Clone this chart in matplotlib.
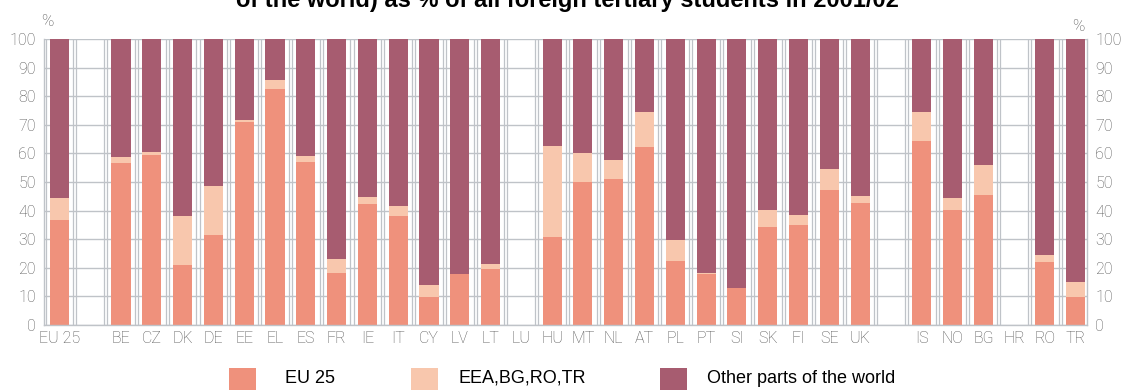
#
# Imports
#

import matplotlib

matplotlib.use("Agg")
import matplotlib.pyplot as plt
from matplotlib.patches import Rectangle
import numpy as np

#
# Data
#

# Groups of countries, a blank slot is left between groups
group_eu = ["EU 25"]
group_members = ["BE", "CZ", "DK", "DE", "EE", "EL", "ES", "FR", "IE", "IT", "CY", "LV", "LT",
                 "LU", "HU", "MT", "NL", "AT", "PL", "PT", "SI", "SK", "FI", "SE", "UK"]
group_others = ["IS", "NO", "BG", "HR", "RO", "TR"]

# Shares (%) of foreign tertiary students by origin
eu25_share = [36.8,
              56.6, 59.6, 20.9, 31.4, 71.1, 82.5, 57.1, 18.2, 42.4, 38.0, 9.9, 17.7,
              19.7, 0.0, 30.8, 49.9, 51.1, 62.1, 22.4, 18.0, 12.8, 34.3, 34.8, 47.3, 42.6,
              64.5, 40.3, 45.3, 0.0, 22.1, 9.9]
eea_share = [7.6,
             2.0, 1.0, 17.1, 17.1, 0.5, 3.2, 2.1, 4.8, 2.3, 3.5, 4.0, 0.2,
             1.6, 0.0, 31.7, 10.1, 6.6, 12.2, 7.2, 0.3, 0.2, 6.0, 3.5, 7.3, 2.5,
             10.1, 4.1, 10.7, 0.0, 2.3, 5.2]
other_share = [55.6,
               41.4, 39.4, 62.0, 51.5, 28.4, 14.3, 40.8, 77.0, 55.3, 58.5, 86.1, 82.1,
               78.7, 0.0, 37.5, 40.0, 42.3, 25.7, 70.4, 81.7, 87.0, 59.7, 61.7, 45.4, 54.9,
               25.4, 55.6, 44.0, 0.0, 75.6, 84.9]

legend_labels = ["EU 25", "EEA,BG,RO,TR", "Other parts of the world"]
title_text = "of the world) as % of all foreign tertiary students in 2001/02"
y_ticks = list(range(0, 101, 10))

#
# Main
#


def main() -> None:
    color_eu = "#ef917c"
    color_eea = "#f8c7ad"
    color_other = "#a75c70"
    grid_color = "#bfc3c8"
    text_color = "#555555"

    # Slot positions with a gap between the groups
    labels = []
    positions = []
    slot = 0
    for group in [group_eu, group_members, group_others]:
        for name in group:
            labels.append(name)
            positions.append(slot)
            slot += 1
        slot += 1
    positions = np.array(positions)

    fig = plt.figure(figsize=(11.21, 3.90), dpi=100)
    axes = fig.add_axes([0.0393, 0.1667, 0.9304, 0.7333])

    # Grid: horizontal lines every 10 and a double frame of vertical lines around each slot
    for y in y_ticks:
        axes.axhline(y, color=grid_color, linewidth=1.0, zorder=0)
    for p in range(slot - 1):
        axes.axvline(p - 0.45, color=grid_color, linewidth=0.9, zorder=0)
        axes.axvline(p + 0.45, color=grid_color, linewidth=0.9, zorder=0)

    width = 0.62
    eu = np.array(eu25_share)
    eea = np.array(eea_share)
    other = np.array(other_share)
    axes.bar(positions, eu, width, color=color_eu, zorder=2)
    axes.bar(positions, eea, width, bottom=eu, color=color_eea, zorder=2)
    axes.bar(positions, other, width, bottom=eu + eea, color=color_other, zorder=2)

    axes.set_xlim(-0.5, 33.37)
    axes.set_ylim(0, 100)
    for side in ["left", "right", "top", "bottom"]:
        axes.spines[side].set_color(grid_color)
        axes.spines[side].set_linewidth(1.0)
    axes.spines["top"].set_visible(False)

    axes.set_xticks(positions)
    axes.set_xticklabels(labels)
    axes.set_yticks(y_ticks)
    axes.tick_params(axis="both", length=0, labelsize=11.5, labelcolor=text_color,
                     labelright=True, right=False)
    axes.tick_params(axis="x", pad=4)
    axes.tick_params(axis="y", pad=6)
    for label in axes.get_xticklabels() + axes.get_yticklabels():
        label.set_fontfamily("Roboto")
        label.set_fontweight("light")

    fig.text(0.042, 0.945, "%", fontsize=12, color=text_color, family="Roboto", fontweight="light",
             ha="center", va="center")
    fig.text(0.962, 0.932, "%", fontsize=12, color=text_color, family="Roboto", fontweight="light",
             ha="center", va="center")

    # Title, mostly cut off at the top edge of the picture as in the source
    fig.text(0.506, 0.982, title_text, fontsize=17, fontweight="bold", family="Liberation Sans",
             ha="center", va="baseline", color="black")

    # Legend along the bottom
    legend_colors = [color_eu, color_eea, color_other]
    square_x = [229, 411, 660]
    text_x = [285, 458, 707]
    for label, color, sx, tx in zip(legend_labels, legend_colors, square_x, text_x):
        fig.patches.append(Rectangle((sx / 1121, 0.0), 27 / 1121, 22 / 390, transform=fig.transFigure,
                                     facecolor=color, edgecolor="none"))
        fig.text(tx / 1121, 0.03, label, fontsize=13, family="Liberation Sans", color="black",
                 ha="left", va="center")

    fig.savefig("out.png", dpi=100)


if __name__ == "__main__":
    main()
